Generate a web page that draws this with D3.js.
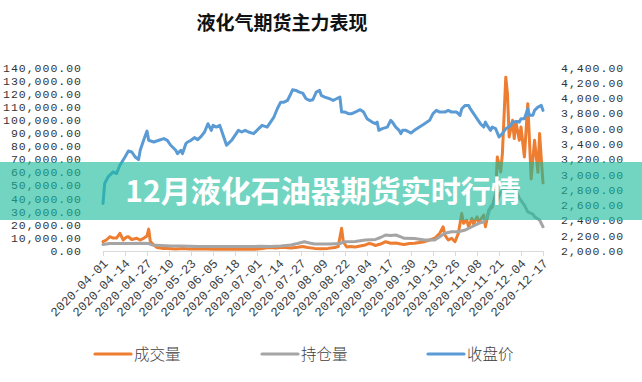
<!DOCTYPE html>
<html><head><meta charset="utf-8">
<script src="https://cdn.jsdelivr.net/npm/d3@7"></script>
<style>
html,body{margin:0;padding:0;background:#fff;}
svg{display:block;}
</style></head>
<body>
<svg id="chart" width="642" height="382"></svg>
<script>
const title = "液化气期货主力表现";
const bannerText = "12月液化石油器期货实时行情";
const seriesNames = ["成交量", "持仓量", "收盘价"];
const seriesColors = ["#ED7D31", "#A5A5A5", "#5B9BD5"];

const tickDates = ["04-01","04-14","04-27","05-10","05-23","06-05","06-18","07-01","07-14","07-27","08-09","08-22","09-04","09-17","09-30","10-13","10-26","11-08","11-21","12-04","12-17"];
const leftTicks = [0,10000,20000,30000,40000,50000,60000,70000,80000,90000,100000,110000,120000,130000,140000];
const rightTicks = [2000,2200,2400,2600,2800,3000,3200,3400,3600,3800,4000,4200,4400];

const closeDates = ["04-01","04-02","04-04","04-07","04-09","04-11","04-14","04-16","04-18","04-20",
"04-22","04-23","04-25","04-27","04-28","05-01","05-04","05-07","05-09","05-11",
"05-14","05-15","05-17","05-18","05-20","05-21","05-23","05-25","05-27","05-29",
"05-31","06-02","06-04","06-05","06-07","06-09","06-11","06-13","06-14","06-16",
"06-18","06-20","06-22","06-24","06-26","06-29","07-02","07-04","07-07","07-09",
"07-11","07-13","07-15","07-17","07-19","07-21","07-22","07-24","07-26","07-28",
"07-30","08-01","08-03","08-05","08-07","08-08","08-10","08-13","08-15","08-17",
"08-19","08-20","08-22","08-24","08-26","08-28","08-31","09-02","09-04","09-07",
"09-09","09-10","09-11","09-13","09-16","09-18","09-19","09-21","09-23","09-24",
"09-25","09-27","09-30","10-02","10-05","10-08","10-11","10-13","10-15","10-17",
"10-20","10-22","10-24","10-27","10-29","10-30","11-01","11-03","11-04","11-06",
"11-08","11-10","11-12","11-13","11-14","11-16","11-17","11-19","11-21","11-23",
"11-25","11-28","11-29","12-02","12-03","12-04","12-06","12-08","12-09","12-11",
"12-12","12-14","12-16","12-17"];
const closeValues = [2622,2883,2969,3034,3013,3122,3230,3308,3295,3230,
3196,3317,3448,3569,3448,3426,3448,3470,3448,3383,
3317,3274,3317,3274,3405,3426,3448,3483,3457,3500,
3556,3665,3578,3643,3621,3643,3513,3383,3405,3448,
3513,3578,3556,3578,3556,3535,3600,3643,3621,3686,
3752,3861,3947,3947,3969,4057,4109,4100,4078,4065,
3991,3969,3978,4078,4100,4035,4013,3991,3969,3991,
4013,3817,3817,3796,3796,3817,3848,3817,3731,3686,
3665,3686,3578,3600,3621,3709,3686,3621,3578,3535,
3578,3578,3543,3578,3621,3665,3709,3796,3839,3817,
3817,3839,3817,3817,3774,3861,3904,3904,3861,3796,
3731,3665,3621,3686,3643,3578,3621,3600,3491,3535,
3600,3643,3686,3695,3686,3731,3731,3861,3774,3774,
3839,3882,3904,3839];

const volDates = ["04-01","04-03","04-05","04-07","04-09","04-11","04-13","04-15","04-16","04-18",
"04-21","04-23","04-25","04-27","04-28","04-29","05-01","05-03","05-06","05-09",
"05-14","05-18","05-22","05-27","06-01","06-06","06-12","06-18","06-24","06-30",
"07-04","07-08","07-12","07-16","07-21","07-25","07-28","07-31","08-04","08-08",
"08-12","08-16","08-18","08-20","08-21","08-23","08-25","08-28","08-31","09-03",
"09-05","09-07","09-09","09-12","09-15","09-18","09-21","09-24","09-26","09-29",
"10-02","10-05","10-08","10-11","10-14","10-17","10-19","10-20","10-22","10-24",
"10-26","10-28","10-30","10-31","11-02","11-03","11-05","11-06","11-08","11-09",
"11-12","11-13","11-15","11-17","11-19","11-20","11-22","11-23","11-25","11-26",
"11-27","11-29","11-30","12-01","12-03","12-04","12-06","12-08","12-09","12-10",
"12-12","12-14","12-15","12-16","12-17"];
const volValues = [7100,8400,10900,9900,9900,13500,8400,10700,10900,8800,
9700,8400,9700,11400,16700,7100,4600,2700,2000,1900,
1500,1900,1500,1750,1500,1300,1500,1300,1500,1300,
1900,2700,2300,2800,2300,2800,3400,2700,2000,1800,
2000,2700,3400,17300,7100,3000,3400,3000,3800,4600,
5700,5300,4200,5300,7100,5900,6100,5300,4900,5700,
5900,6500,7100,8400,9700,13500,18500,12200,8400,9700,
7100,13500,28700,21100,23600,18500,24900,20500,26100,22100,
27400,18500,31200,33700,43900,71800,60300,74300,132600,120000,
87000,99700,85800,98400,84500,94600,71800,112400,84500,55000,
84500,60000,89600,70000,52000];

const oiDates = ["04-01","04-05","04-11","04-17","04-23","04-28","04-30","05-05","05-11","05-17",
"05-22","05-28","06-03","06-09","06-15","06-21","06-27","07-03","07-09","07-15",
"07-21","07-25","07-29","08-01","08-04","08-07","08-13","08-19","08-22","08-28",
"09-03","09-09","09-12","09-15","09-18","09-21","09-24","09-26","10-02","10-08",
"10-14","10-17","10-20","10-24","10-28","11-01","11-05","11-09","11-12","11-14",
"11-16","11-18","11-20","11-22","11-25","11-28","12-01","12-03","12-06","12-08",
"12-11","12-12","12-15","12-17"];
const oiValues = [4900,5700,5700,5700,5900,5700,4600,4200,3800,3800,
3600,3400,3400,3400,3400,3400,3400,3600,3400,3800,
4600,5700,7100,6100,5300,5300,5300,5700,7100,7200,
8400,8800,10300,12200,11800,12200,10700,9700,9500,8400,
8400,10900,13500,14700,14700,16000,18500,21100,22300,26100,
33700,36300,38800,44900,47900,49500,46400,40300,35000,29900,
28200,26100,23600,18500];

const parse = d3.timeParse("%Y-%m-%d");
const pd = s => parse("2020-" + s);
const fmtDate = d3.timeFormat("%Y-%m-%d");
const fmtNum = d3.format(",.2f");

const svg = d3.select("#chart");
const X0 = 103, X1 = 543, YT = 67.5, YB = 251;

const x = d3.scaleTime().domain([pd(tickDates[0]), pd(tickDates[tickDates.length-1])]).range([X0, X1]);
const yL = d3.scaleLinear().domain([0, 140000]).range([YB, YT]);
const yR = d3.scaleLinear().domain([2000, 4400]).range([YB, YT]);

// Title
svg.append("text").attr("x", 282).attr("y", 30).attr("text-anchor", "middle")
  .attr("font-family", "'Noto Sans CJK SC', sans-serif").attr("font-weight", 700)
  .attr("font-size", 19).attr("fill", "#111").text(title);

// Left axis labels
const labelFont = "'Liberation Mono', monospace";
svg.append("g").selectAll("text").data(leftTicks).join("text")
  .attr("x", 82).attr("y", d => yL(d)).attr("dy", "0.35em")
  .attr("text-anchor", "end").attr("font-family", labelFont).attr("font-size", 11.5)
  .attr("letter-spacing", 1).attr("fill", "#333").text(d => fmtNum(d));

// Right axis labels
svg.append("g").selectAll("text").data(rightTicks).join("text")
  .attr("x", 561).attr("y", d => yR(d)).attr("dy", "0.35em")
  .attr("text-anchor", "start").attr("font-family", labelFont).attr("font-size", 11.5)
  .attr("letter-spacing", 1).attr("fill", "#333").text(d => fmtNum(d));

// X axis
const xAxis = svg.append("g").attr("transform", `translate(0,${YB})`)
  .call(d3.axisBottom(x).tickValues(tickDates.map(pd)).tickSize(5).tickFormat(fmtDate));
xAxis.select(".domain").attr("stroke", "#d9d9d9");
xAxis.selectAll(".tick line").attr("stroke", "#d9d9d9");
xAxis.selectAll(".tick text")
  .attr("font-family", labelFont).attr("font-size", 12.5).attr("fill", "#404040")
  .attr("text-anchor", "end").attr("x", 0).attr("y", 0).attr("dy", "0.35em")
  .attr("transform", "translate(2,10) rotate(-45)");

// Lines
const mk = (dates, vals) => dates.map((d, i) => ({ d: pd(d), v: vals[i] }));
const lineL = d3.line().x(p => x(p.d)).y(p => yL(p.v));
const lineR = d3.line().x(p => x(p.d)).y(p => yR(p.v));
const lines = [
  { data: mk(volDates, volValues), gen: lineL, color: seriesColors[0] },
  { data: mk(oiDates, oiValues), gen: lineL, color: seriesColors[1] },
  { data: mk(closeDates, closeValues), gen: lineR, color: seriesColors[2] }
];
svg.append("g").selectAll("path").data(lines).join("path")
  .attr("d", s => s.gen(s.data)).attr("fill", "none").attr("stroke", s => s.color)
  .attr("stroke-width", 3).attr("stroke-linejoin", "round").attr("stroke-linecap", "round");

// Legend
const legendX = [95, 262, 428];
const lg = svg.append("g").selectAll("g").data(seriesNames).join("g")
  .attr("transform", (d, i) => `translate(${legendX[i]},354)`);
lg.append("line").attr("x1", 0).attr("x2", 36).attr("y1", 0).attr("y2", 0)
  .attr("stroke", (d, i) => seriesColors[i]).attr("stroke-width", 3.2).attr("stroke-linecap", "round");
lg.append("text").attr("x", 39).attr("y", 0).attr("dy", "0.36em")
  .attr("font-family", "'Noto Sans CJK SC', sans-serif").attr("font-weight", 300).attr("font-size", 15.5)
  .attr("fill", "#404040").text(d => d);

// Banner overlay
svg.append("rect").attr("x", 0).attr("y", 162).attr("width", 642).attr("height", 58)
  .attr("fill", "rgb(26,188,156)").attr("fill-opacity", 0.62);
svg.append("text").attr("x", 323).attr("y", 191).attr("dy", "0.36em").attr("text-anchor", "middle")
  .attr("font-family", "'Noto Sans CJK SC', sans-serif").attr("font-weight", 700)
  .attr("font-size", 30).attr("fill", "#fff").text(bannerText);
</script>
</body></html>
